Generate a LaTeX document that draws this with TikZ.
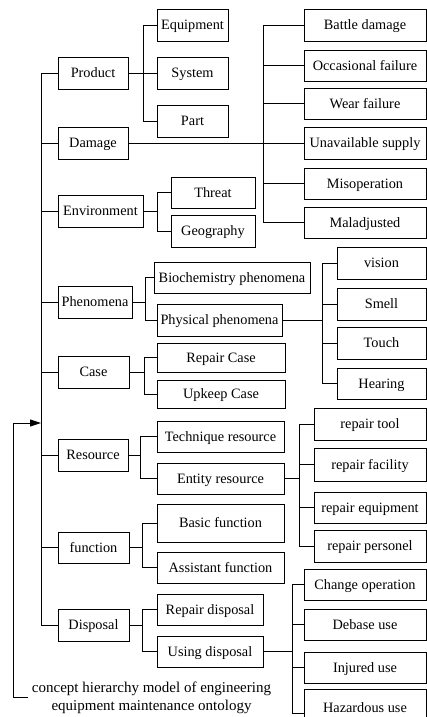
\documentclass[tikz,border=0pt]{standalone}
\usepackage{fontspec}
\setmainfont{Liberation Serif}
\usetikzlibrary{arrows.meta}

% concept box given by its corners (x1,y1)-(x2,y2)
\newcommand\conceptbox[6]{%
  \node[box, minimum width={(#4-#2)*1pt}, minimum height={(#5-#3)*1pt}]
    (#1) at ({(#2+#4)/2},{(#3+#5)/2}) {#6};}

% parent -> vertical bus at x of #1 -> every child
\newcommand\fanout[5]{%
  \draw[link] (#2.east) -- (#1 |- #2.east);
  \draw[link] (#1 |- #3.west) -- (#1 |- #4.west);
  \foreach \child in {#5} {\draw[link] (#1 |- \child.west) -- (\child.west);}}

\begin{document}
\begin{tikzpicture}[x=1pt, y=-1pt,
  box/.style={draw, line width=0.9pt, inner sep=0pt,
    font=\fontsize{14.3}{16}\selectfont, text height=9.5pt, text depth=0pt},
  link/.style={line width=0.9pt},
  feed/.style={line width=0.9pt, -{Triangle[length=11pt,width=7pt]}}]
\useasboundingbox (0,0) rectangle (427,717);

% top-level concepts
\conceptbox{product}{58}{57}{128}{89}{Product}
\conceptbox{damage}{58}{127}{128}{159}{Damage}
\conceptbox{environment}{58}{195}{143}{227}{Environment}
\conceptbox{phenomena}{58}{286}{132}{318}{Phenomena}
\conceptbox{case}{58}{356}{129}{388}{Case}
\conceptbox{resource}{58}{439}{128}{471}{Resource}
\conceptbox{function}{58}{532}{129}{563}{function}
\conceptbox{disposal}{58}{609}{129}{641}{Disposal}

% product
\conceptbox{equipment}{157}{9}{228}{41}{Equipment}
\conceptbox{system}{157}{57}{228}{89}{System}
\conceptbox{part}{157}{105}{228}{137}{Part}

% damage
\conceptbox{battle}{304}{9}{426}{41}{Battle damage}
\conceptbox{occasional}{304}{50}{426}{81}{Occasional failure}
\conceptbox{wear}{304}{88}{426}{119}{Wear failure}
\conceptbox{unavailable}{304}{127}{426}{159}{Unavailable supply}
\conceptbox{misoperation}{304}{168}{426}{199}{Misoperation}
\conceptbox{maladjusted}{304}{207}{426}{238}{Maladjusted}

% environment
\conceptbox{threat}{171}{177}{255}{208}{Threat}
\conceptbox{geography}{171}{215}{255}{247}{Geography}

% phenomena
\conceptbox{biochem}{154}{262}{310}{293}{Biochemistry phenomena}
\conceptbox{physical}{157}{304}{282}{336}{Physical phenomena}
\conceptbox{vision}{337}{247}{426}{279}{vision}
\conceptbox{smell}{337}{288}{426}{320}{Smell}
\conceptbox{touch}{337}{327}{426}{359}{Touch}
\conceptbox{hearing}{337}{368}{426}{399}{Hearing}

% case
\conceptbox{repaircase}{157}{343}{285}{372}{Repair Case}
\conceptbox{upkeepcase}{157}{380}{285}{408}{Upkeep Case}

% resource
\conceptbox{technique}{157}{421}{284}{452}{Technique resource}
\conceptbox{entity}{157}{463}{284}{494}{Entity resource}
\conceptbox{tool}{314}{408}{426}{440}{repair tool}
\conceptbox{facility}{314}{448}{426}{481}{repair facility}
\conceptbox{repequip}{314}{492}{426}{523}{repair equipment}
\conceptbox{personel}{314}{530}{426}{562}{repair personel}

% function
\conceptbox{basic}{157}{504}{284}{542}{Basic function}
\conceptbox{assistant}{157}{552}{284}{583}{Assistant function}

% disposal
\conceptbox{repairdisp}{157}{594}{263}{625}{Repair disposal}
\conceptbox{usingdisp}{157}{636}{263}{667}{Using disposal}
\conceptbox{change}{304}{569}{426}{600}{Change operation}
\conceptbox{debase}{304}{609}{426}{640}{Debase use}
\conceptbox{injured}{304}{652}{426}{683}{Injured use}
\conceptbox{hazard}{304}{689}{426}{727}{Hazardous use}

% caption of the whole model
\node[inner sep=0pt, align=center, font=\fontsize{15}{18}\selectfont]
  (caption) at (151.5,697.5)
  {concept hierarchy model of engineering\\equipment maintenance ontology};

% bus positions
\coordinate (trunk) at (41,0);
\coordinate (bProduct) at (143,0);
\coordinate (bDamage) at (263,0);
\coordinate (bEnv) at (157,0);
\coordinate (bPhen) at (145,0);
\coordinate (bPhys) at (322,0);
\coordinate (bCase) at (144,0);
\coordinate (bRes) at (140,0);
\coordinate (bEntity) at (299,0);
\coordinate (bFunc) at (142,0);
\coordinate (bDisp) at (142,0);
\coordinate (bUse) at (292,0);

% main trunk
\draw[link] (trunk |- product.west) -- (trunk |- disposal.west);
\foreach \child in {product,damage,environment,phenomena,case,resource,function,disposal}
  {\draw[link] (trunk |- \child.west) -- (\child.west);}

% sub-trees
\fanout{bProduct}{product}{equipment}{part}{equipment,system,part}
\draw[link] (damage.east) -- (unavailable.west);
\draw[link] (bDamage |- battle.west) -- (bDamage |- maladjusted.west);
\foreach \child in {battle,occasional,wear,misoperation,maladjusted}
  {\draw[link] (bDamage |- \child.west) -- (\child.west);}
\fanout{bEnv}{environment}{threat}{geography}{threat,geography}
\fanout{bPhen}{phenomena}{biochem}{physical}{biochem,physical}
\fanout{bPhys}{physical}{vision}{hearing}{vision,smell,touch,hearing}
\fanout{bCase}{case}{repaircase}{upkeepcase}{repaircase,upkeepcase}
\fanout{bRes}{resource}{technique}{entity}{technique,entity}
\fanout{bEntity}{entity}{tool}{personel}{tool,facility,repequip,personel}
\fanout{bFunc}{function}{basic}{assistant}{basic,assistant}
\fanout{bDisp}{disposal}{repairdisp}{usingdisp}{repairdisp,usingdisp}
\fanout{bUse}{usingdisp}{change}{injured}{change,debase,injured}
\coordinate (hazardIn) at ([yshift=-5pt]hazard.west);
\draw[link] (bUse |- injured.west) -- (bUse |- hazardIn) -- (hazardIn);

% feedback from the caption into the trunk
\coordinate (capTail) at ([xshift=-4pt]caption.west);
\coordinate (loopTop) at (13,423);
\draw[feed] (capTail) -| (loopTop) -- (trunk |- loopTop);
\end{tikzpicture}
\end{document}
